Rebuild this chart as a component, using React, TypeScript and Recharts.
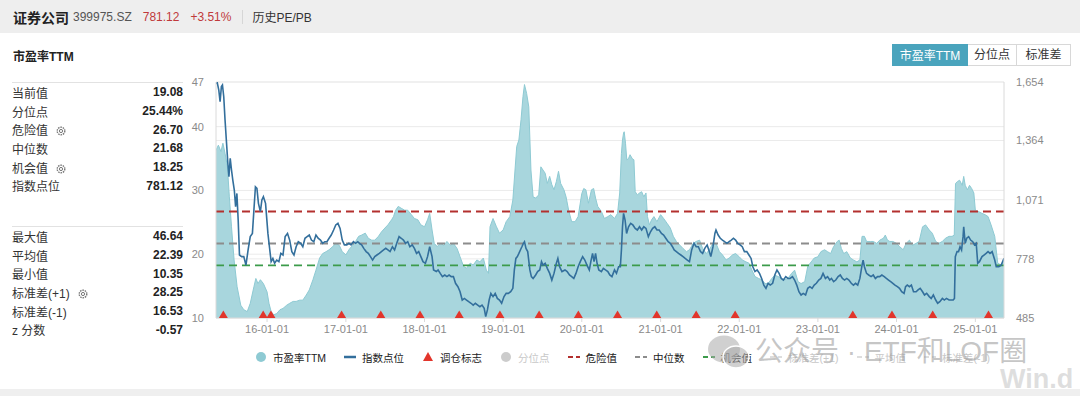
import React from "react";
import { ComposedChart, Area, Line, Scatter, XAxis, YAxis, ReferenceLine, CartesianGrid } from "recharts";

const FONT = 'Arial, "Liberation Sans", "Noto Sans CJK SC", sans-serif';

// 市盈率TTM (left axis)
const peDates = [
  "2015-05-09", "2015-05-20", "2015-06-01", "2015-06-10", "2015-06-20", "2015-07-01", "2015-07-10", "2015-07-20",
  "2015-08-01", "2015-08-15", "2015-09-01", "2015-09-15", "2015-10-01", "2015-10-15", "2015-11-01", "2015-11-10",
  "2015-11-20", "2015-12-01", "2015-12-15",
  "2016-01-01", "2016-01-10", "2016-01-20", "2016-02-01", "2016-02-15", "2016-03-01", "2016-03-15", "2016-04-01",
  "2016-04-15", "2016-05-01", "2016-05-15", "2016-06-01", "2016-06-15", "2016-07-01", "2016-07-15", "2016-08-01",
  "2016-08-15", "2016-09-01", "2016-09-15", "2016-10-01", "2016-10-15", "2016-11-01", "2016-11-15", "2016-12-01",
  "2016-12-15",
  "2017-01-01", "2017-01-15", "2017-02-01", "2017-02-15", "2017-03-01", "2017-03-15", "2017-04-01", "2017-04-15",
  "2017-05-01", "2017-05-15", "2017-06-01", "2017-06-15", "2017-07-01", "2017-07-15", "2017-08-01", "2017-08-10",
  "2017-08-20", "2017-09-01", "2017-09-15", "2017-10-01", "2017-10-15", "2017-11-01", "2017-11-15", "2017-12-01",
  "2017-12-15",
  "2018-01-01", "2018-01-15", "2018-01-25", "2018-02-05", "2018-02-15", "2018-03-01", "2018-03-15", "2018-04-01",
  "2018-04-15", "2018-05-01", "2018-05-15", "2018-06-01", "2018-06-15", "2018-07-01", "2018-07-15", "2018-08-01",
  "2018-08-15", "2018-09-01", "2018-09-15", "2018-10-01", "2018-10-15", "2018-10-25", "2018-11-01", "2018-11-15",
  "2018-12-01", "2018-12-15",
  "2019-01-01", "2019-01-15", "2019-02-01", "2019-02-15", "2019-02-25", "2019-03-05", "2019-03-15", "2019-03-25",
  "2019-04-03", "2019-04-10", "2019-04-20", "2019-04-30", "2019-05-10", "2019-05-20", "2019-06-01", "2019-06-15",
  "2019-06-25", "2019-07-05", "2019-07-15", "2019-07-25", "2019-08-05", "2019-08-15", "2019-08-25", "2019-09-05",
  "2019-09-15", "2019-09-25", "2019-10-10", "2019-10-20", "2019-11-01", "2019-11-15", "2019-12-01", "2019-12-15",
  "2020-01-01", "2020-01-10", "2020-01-20", "2020-02-01", "2020-02-15", "2020-02-25", "2020-03-05", "2020-03-15",
  "2020-04-01", "2020-04-15", "2020-05-01", "2020-05-15", "2020-06-01", "2020-06-15", "2020-06-25", "2020-07-03",
  "2020-07-08", "2020-07-13", "2020-07-16", "2020-07-22", "2020-07-28", "2020-08-05", "2020-08-12", "2020-08-22",
  "2020-08-30", "2020-09-05", "2020-09-15", "2020-09-25", "2020-10-05", "2020-10-15", "2020-10-25", "2020-11-01",
  "2020-11-10", "2020-11-20", "2020-12-01", "2020-12-15",
  "2021-01-01", "2021-01-15", "2021-02-01", "2021-02-15", "2021-03-01", "2021-03-15", "2021-04-01", "2021-04-15",
  "2021-05-01", "2021-05-15", "2021-06-01", "2021-06-15", "2021-07-01", "2021-07-15", "2021-08-01", "2021-08-15",
  "2021-09-01", "2021-09-15", "2021-10-01", "2021-10-15", "2021-11-01", "2021-11-15", "2021-12-01", "2021-12-15",
  "2022-01-01", "2022-01-15", "2022-02-01", "2022-02-15", "2022-03-01", "2022-03-15", "2022-04-01", "2022-04-15",
  "2022-05-01", "2022-05-15", "2022-06-01", "2022-06-15", "2022-07-01", "2022-07-15", "2022-08-01", "2022-08-15",
  "2022-09-01", "2022-09-15", "2022-10-01", "2022-10-15", "2022-11-01", "2022-11-15", "2022-12-01", "2022-12-15",
  "2023-01-01", "2023-01-15", "2023-02-01", "2023-02-15", "2023-03-01", "2023-03-15", "2023-04-01", "2023-04-10",
  "2023-04-20", "2023-05-01", "2023-05-15", "2023-06-01", "2023-06-15", "2023-07-01", "2023-07-15", "2023-07-25",
  "2023-08-05", "2023-08-15", "2023-09-01", "2023-09-15", "2023-10-01", "2023-10-15", "2023-11-01", "2023-11-10",
  "2023-11-20", "2023-12-01", "2023-12-15",
  "2024-01-01", "2024-01-15", "2024-02-01", "2024-02-15", "2024-03-01", "2024-03-15", "2024-04-01", "2024-04-15",
  "2024-05-01", "2024-05-15", "2024-06-01", "2024-06-15", "2024-07-01", "2024-07-15", "2024-08-01", "2024-08-15",
  "2024-09-01", "2024-09-15", "2024-09-25", "2024-10-01", "2024-10-10", "2024-10-20", "2024-11-01", "2024-11-08",
  "2024-11-15", "2024-11-25", "2024-12-05", "2024-12-15", "2024-12-25",
  "2025-01-01", "2025-01-15", "2025-02-01", "2025-02-15", "2025-03-01", "2025-03-15", "2025-04-01", "2025-04-08",
  "2025-04-15", "2025-05-01", "2025-05-14",
];
const peValues = [
  36.3, 37.1, 36.1, 37.4, 35.8, 33.7, 29.0, 24.3,
  19.1, 14.9, 12.0, 11.3, 11.0, 12.3, 14.9, 16.2,
  15.4, 16.0, 15.4,
  14.1, 12.3, 11.0, 10.5, 10.7, 11.3, 11.5, 12.0,
  12.3, 12.6, 12.6, 12.8, 12.8, 13.6, 14.4, 16.0,
  17.5, 19.4, 20.1, 20.4, 20.7, 21.2, 21.7, 21.4,
  20.4,
  19.9, 20.7, 21.4, 22.0, 22.8, 23.0, 23.3, 22.5,
  22.2, 22.2, 22.8, 23.5, 24.1, 24.6, 25.4, 25.9,
  26.9, 27.5, 27.2, 26.9, 26.9, 26.2, 25.6, 25.4,
  24.6,
  24.3, 25.4, 26.4, 23.8, 21.7, 21.2, 21.7, 21.4,
  22.0, 21.4, 21.7, 20.9, 19.6, 18.1, 17.8, 18.6,
  18.3, 19.1, 18.8, 19.4, 17.5, 17.0, 24.3, 25.6,
  24.3, 23.3,
  23.8, 25.1, 25.9, 28.5, 33.2, 36.9, 37.9, 41.1,
  44.7, 46.6, 45.2, 43.1, 33.2, 29.0, 28.8, 29.3,
  33.7, 33.2, 32.7, 31.1, 32.2, 30.9, 30.1, 31.4,
  33.0, 31.1, 30.1, 29.0, 26.9, 25.1, 25.1, 25.9,
  29.5, 30.3, 30.1, 28.0, 30.1, 30.3, 28.8, 27.5,
  26.7, 25.6, 25.9, 26.2, 25.6, 26.4, 29.6, 35.8,
  37.9, 39.0, 39.2, 37.4, 34.8, 35.0, 35.6, 35.0,
  34.8, 29.8, 29.3, 29.6, 29.8, 29.0, 29.6, 25.9,
  24.6, 25.4, 25.9, 25.1,
  26.2, 25.6, 24.8, 24.1, 22.8, 22.0, 21.4, 20.9,
  20.4, 20.7, 21.7, 22.0, 22.2, 20.9, 20.1, 20.7,
  21.7, 21.7, 20.4, 19.9, 19.1, 19.4, 19.9, 20.1,
  19.6, 19.1, 18.8, 18.6, 17.5, 16.5, 16.2, 16.0,
  15.4, 15.4, 16.2, 16.7, 16.5, 16.2, 16.0, 16.2,
  17.0, 17.5, 15.7, 15.4, 15.7, 18.1, 18.8, 19.4,
  19.6, 20.4, 20.7, 20.4, 20.1, 21.2, 22.0, 22.2,
  20.9, 20.1, 20.4, 19.4, 19.1, 18.8, 19.1, 22.8,
  22.8, 22.0, 22.0, 22.0, 21.7, 22.2, 22.5, 23.0,
  22.2, 22.0, 22.0,
  21.7, 21.2, 20.7, 21.7, 22.2, 21.4, 21.7, 22.0,
  24.3, 24.6, 23.8, 23.3, 22.0, 21.7, 22.0, 22.5,
  22.8, 22.8, 23.0, 31.1, 31.4, 31.6, 30.8, 32.2,
  30.8, 30.1, 30.8, 30.3, 29.6,
  26.9, 26.7, 26.4, 26.2, 25.9, 24.6, 22.8, 20.7,
  18.6, 18.3, 19.08,
];

// 指数点位 (right axis)
const idxDates = [
  "2015-05-09", "2015-05-15", "2015-05-22", "2015-05-28", "2015-06-03", "2015-06-08", "2015-06-14", "2015-06-20",
  "2015-06-26", "2015-07-03", "2015-07-08", "2015-07-14", "2015-07-20", "2015-07-26", "2015-08-02", "2015-08-08",
  "2015-08-14", "2015-08-20", "2015-08-26", "2015-09-05", "2015-09-15", "2015-09-25", "2015-10-05", "2015-10-15",
  "2015-10-25", "2015-11-01", "2015-11-08", "2015-11-15", "2015-11-22", "2015-12-01", "2015-12-08", "2015-12-15",
  "2015-12-25",
  "2016-01-05", "2016-01-12", "2016-01-20", "2016-01-28", "2016-02-05", "2016-02-15", "2016-02-25", "2016-03-05",
  "2016-03-15", "2016-03-25", "2016-04-05", "2016-04-15", "2016-04-25", "2016-05-05", "2016-05-15", "2016-05-25",
  "2016-06-05", "2016-06-15", "2016-06-25", "2016-07-05", "2016-07-15", "2016-07-25", "2016-08-05", "2016-08-15",
  "2016-08-25", "2016-09-05", "2016-09-15", "2016-09-25", "2016-10-05", "2016-10-15", "2016-10-25", "2016-11-05",
  "2016-11-15", "2016-11-25", "2016-12-05", "2016-12-15", "2016-12-25",
  "2017-01-05", "2017-01-15", "2017-01-25", "2017-02-05", "2017-02-15", "2017-02-25", "2017-03-05", "2017-03-15",
  "2017-03-25", "2017-04-05", "2017-04-15", "2017-04-25", "2017-05-05", "2017-05-15", "2017-05-25", "2017-06-05",
  "2017-06-15", "2017-06-25", "2017-07-05", "2017-07-15", "2017-07-25", "2017-08-05", "2017-08-15", "2017-08-25",
  "2017-09-05", "2017-09-15", "2017-09-25", "2017-10-05", "2017-10-15", "2017-10-25", "2017-11-05", "2017-11-15",
  "2017-11-25", "2017-12-05", "2017-12-15", "2017-12-25",
  "2018-01-05", "2018-01-15", "2018-01-25", "2018-02-05", "2018-02-12", "2018-02-25", "2018-03-05", "2018-03-15",
  "2018-03-25", "2018-04-05", "2018-04-15", "2018-04-25", "2018-05-05", "2018-05-15", "2018-05-25", "2018-06-05",
  "2018-06-15", "2018-06-25", "2018-07-05", "2018-07-15", "2018-07-25", "2018-08-05", "2018-08-15", "2018-08-25",
  "2018-09-05", "2018-09-15", "2018-09-25", "2018-10-05", "2018-10-12", "2018-10-20", "2018-10-28", "2018-11-05",
  "2018-11-15", "2018-11-25", "2018-12-05", "2018-12-15", "2018-12-25",
  "2019-01-05", "2019-01-15", "2019-01-25", "2019-02-05", "2019-02-15", "2019-02-22", "2019-03-01", "2019-03-08",
  "2019-03-15", "2019-03-22", "2019-03-29", "2019-04-05", "2019-04-10", "2019-04-17", "2019-04-25", "2019-05-05",
  "2019-05-12", "2019-05-20", "2019-06-01", "2019-06-10", "2019-06-20", "2019-06-28", "2019-07-05", "2019-07-15",
  "2019-07-25", "2019-08-05", "2019-08-15", "2019-08-25", "2019-09-05", "2019-09-12", "2019-09-20", "2019-10-01",
  "2019-10-15", "2019-10-25", "2019-11-05", "2019-11-15", "2019-11-25", "2019-12-05", "2019-12-15", "2019-12-25",
  "2020-01-05", "2020-01-15", "2020-01-25", "2020-02-05", "2020-02-12", "2020-02-20", "2020-02-27", "2020-03-05",
  "2020-03-12", "2020-03-20", "2020-04-01", "2020-04-10", "2020-04-20", "2020-05-01", "2020-05-10", "2020-05-20",
  "2020-06-01", "2020-06-10", "2020-06-20", "2020-06-28", "2020-07-03", "2020-07-08", "2020-07-13", "2020-07-20",
  "2020-07-27", "2020-08-05", "2020-08-15", "2020-08-25", "2020-09-05", "2020-09-15", "2020-09-25", "2020-10-05",
  "2020-10-15", "2020-10-25", "2020-11-05", "2020-11-15", "2020-11-25", "2020-12-05", "2020-12-15", "2020-12-25",
  "2021-01-05", "2021-01-15", "2021-01-25", "2021-02-05", "2021-02-15", "2021-02-25", "2021-03-05", "2021-03-15",
  "2021-03-25", "2021-04-05", "2021-04-15", "2021-04-25", "2021-05-05", "2021-05-15", "2021-05-25", "2021-06-05",
  "2021-06-15", "2021-06-25", "2021-07-05", "2021-07-15", "2021-07-25", "2021-08-05", "2021-08-15", "2021-08-22",
  "2021-09-01", "2021-09-10", "2021-09-15", "2021-09-25", "2021-10-05", "2021-10-15", "2021-10-25", "2021-11-05",
  "2021-11-15", "2021-11-25", "2021-12-05", "2021-12-15", "2021-12-25",
  "2022-01-05", "2022-01-15", "2022-01-25", "2022-02-05", "2022-02-15", "2022-02-25", "2022-03-05", "2022-03-15",
  "2022-03-25", "2022-04-05", "2022-04-15", "2022-04-25", "2022-05-05", "2022-05-15", "2022-05-25", "2022-06-05",
  "2022-06-15", "2022-06-25", "2022-07-05", "2022-07-15", "2022-07-25", "2022-08-05", "2022-08-15", "2022-08-25",
  "2022-09-05", "2022-09-15", "2022-09-25", "2022-10-05", "2022-10-15", "2022-10-25", "2022-11-05", "2022-11-15",
  "2022-11-25", "2022-12-05", "2022-12-15", "2022-12-25",
  "2023-01-05", "2023-01-15", "2023-01-25", "2023-02-05", "2023-02-15", "2023-02-25", "2023-03-05", "2023-03-15",
  "2023-03-25", "2023-04-05", "2023-04-15", "2023-04-25", "2023-05-05", "2023-05-15", "2023-05-25", "2023-06-05",
  "2023-06-15", "2023-06-25", "2023-07-05", "2023-07-15", "2023-07-25", "2023-07-30", "2023-08-05", "2023-08-15",
  "2023-08-25", "2023-09-05", "2023-09-15", "2023-09-25", "2023-10-05", "2023-10-15", "2023-10-25", "2023-11-05",
  "2023-11-15", "2023-11-25", "2023-12-05", "2023-12-15", "2023-12-25",
  "2024-01-05", "2024-01-15", "2024-01-25", "2024-02-05", "2024-02-12", "2024-02-20", "2024-03-01", "2024-03-10",
  "2024-03-20", "2024-04-01", "2024-04-10", "2024-04-20", "2024-05-01", "2024-05-10", "2024-05-20", "2024-06-01",
  "2024-06-10", "2024-06-20", "2024-07-01", "2024-07-10", "2024-07-20", "2024-08-01", "2024-08-10", "2024-08-20",
  "2024-09-01", "2024-09-10", "2024-09-20", "2024-09-26", "2024-09-30", "2024-10-08", "2024-10-15", "2024-10-22",
  "2024-10-29", "2024-11-05", "2024-11-08", "2024-11-15", "2024-11-22", "2024-12-01", "2024-12-10", "2024-12-20",
  "2024-12-28",
  "2025-01-05", "2025-01-12", "2025-01-20", "2025-02-01", "2025-02-10", "2025-02-20", "2025-03-01", "2025-03-10",
  "2025-03-20", "2025-04-01", "2025-04-08", "2025-04-20", "2025-05-01", "2025-05-14",
];
const idxValues = [
  1647, 1650, 1614, 1556, 1631, 1639, 1581, 1466,
  1367, 1251, 1185, 1276, 1218, 1168, 1119, 1036,
  1102, 970, 797, 789, 789, 747, 822, 888,
  904, 1020, 1135, 1127, 1053, 1012, 1070, 1086,
  1053,
  904, 838, 764, 780, 756, 772, 764, 805,
  797, 888, 904, 871, 814, 797, 838, 863,
  855, 838, 880, 888, 896, 871, 863, 896,
  880, 871, 855, 863, 863, 880, 896, 921,
  946, 954, 929, 871, 847,
  847, 855, 847, 863, 855, 863, 855, 847,
  830, 814, 805, 789, 772, 789, 797, 805,
  814, 822, 830, 822, 814, 838, 822, 855,
  888, 880, 871, 855, 863, 838, 847, 830,
  805, 814, 789, 764,
  756, 789, 838, 789, 723, 715, 723, 706,
  690, 698, 690, 698, 690, 690, 657, 640,
  615, 574, 582, 574, 566, 558, 549, 558,
  549, 541, 549, 533, 492, 525, 574, 607,
  591, 607, 582, 574, 558,
  591, 607, 607, 615, 632, 723, 780, 789,
  805, 822, 838, 855, 863, 830, 814, 723,
  690, 681, 698, 715, 723, 764, 747, 756,
  731, 706, 673, 706, 756, 780, 739, 715,
  723, 715, 698, 690, 681, 706, 739, 764,
  789, 772, 747, 723, 764, 805, 764, 805,
  756, 723, 715, 731, 723, 715, 698, 690,
  723, 706, 739, 739, 822, 937, 1003, 970,
  904, 937, 954, 946, 929, 921, 937, 921,
  937, 929, 888, 912, 929, 937, 921, 921,
  904, 896, 880, 863, 855, 838, 822, 814,
  805, 797, 789, 780, 772, 764, 822, 855,
  838, 838, 814, 805, 830, 847, 814, 789,
  838, 904, 921, 896, 880, 871, 863, 855,
  863, 871, 880, 871, 855,
  847, 838, 814, 814, 797, 780, 739, 715,
  723, 706, 681, 648, 632, 657, 648, 657,
  698, 723, 706, 681, 673, 690, 681, 681,
  690, 673, 648, 615, 599, 607, 599, 632,
  640, 632, 648, 657,
  673, 681, 706, 681, 690, 673, 681, 665,
  673, 690, 698, 681, 673, 681, 673, 657,
  648, 657, 648, 681, 747, 772, 739, 706,
  698, 690, 698, 681, 690, 690, 698, 690,
  681, 673, 665, 657, 648,
  640, 632, 615, 607, 640, 648, 640, 648,
  615, 615, 624, 632, 615, 599, 607, 591,
  582, 599, 574, 558, 566, 582, 574, 582,
  574, 574, 574, 582, 789, 814, 814, 838,
  822, 888, 937, 855, 880, 888, 871, 863,
  847,
  855, 756, 764, 789, 797, 805, 814, 805,
  814, 772, 739, 739, 747, 781.12,
];

// 调仓标志
const flagDates = [
  "2015-06-12", "2015-12-14", "2016-01-19", "2016-12-12", "2017-06-12", "2017-12-11", "2018-06-11", "2018-12-17",
  "2019-06-17", "2019-12-16", "2020-06-15", "2020-12-14", "2021-06-15", "2021-12-13", "2023-06-12", "2023-12-11",
  "2024-06-17", "2025-03-03",
];

const yearTicks = ["2016-01-01", "2017-01-01", "2018-01-01", "2019-01-01", "2020-01-01", "2021-01-01", "2022-01-01", "2023-01-01", "2024-01-01", "2025-01-01"];
const peTicks = [10, 20, 30, 40, 47];
const idxTicks = [485, 778, 1071, 1364, 1654];

const dangerValue = 26.7;
const medianValue = 21.68;
const chanceValue = 18.25;

const statLabelsTop = ["当前值", "分位点", "危险值", "中位数", "机会值", "指数点位"];
const statValuesTop = ["19.08", "25.44%", "26.70", "21.68", "18.25", "781.12"];
const statGearTop = [false, false, true, false, true, false];
const statLabelsBottom = ["最大值", "平均值", "最小值", "标准差(+1)", "标准差(-1)", "z 分数"];
const statValuesBottom = ["46.64", "22.39", "10.35", "28.25", "16.53", "-0.57"];
const statGearBottom = [false, false, false, true, false, false];

const toTs = (d: string) => Date.parse(d + "T00:00:00Z");

const rowMap = new Map<number, { t: number; pe?: number; idx?: number }>();
peDates.forEach((d, i) => {
  const t = toTs(d);
  const r = rowMap.get(t) || { t };
  r.pe = peValues[i];
  rowMap.set(t, r);
});
idxDates.forEach((d, i) => {
  const t = toTs(d);
  const r = rowMap.get(t) || { t };
  r.idx = idxValues[i];
  rowMap.set(t, r);
});
const chartData = Array.from(rowMap.values()).sort((a, b) => a.t - b.t);
const flagData = flagDates.map((d) => ({ t: toTs(d), y: 10 }));

const xDomain = [toTs("2015-05-09"), toTs("2025-05-14")];

const C = {
  area: "#a8d6dd",
  areaStroke: "#8ecad3",
  index: "#336f9c",
  flag: "#e2352b",
  danger: "#b3302e",
  median: "#8c8c8c",
  chance: "#3c9b4b",
  grid: "#ebebeb",
  axis: "#dadada",
  tick: "#8a8a8a",
  teal: "#4aa4bd",
};

function Gear() {
  return (
    <svg width="10" height="10" style={{ marginLeft: 8, verticalAlign: "-1px" }}>
      <circle cx="5" cy="5" r="3.8" fill="none" stroke="#777" strokeWidth="1.4" strokeDasharray="1.5 0.9" />
      <circle cx="5" cy="5" r="1.6" fill="none" stroke="#777" strokeWidth="1" />
    </svg>
  );
}

function StatRows({ top, labels, values, gears }: { top: number; labels: string[]; values: string[]; gears: boolean[] }) {
  return (
    <div style={{ position: "absolute", left: 12, top, width: 171, borderTop: "1px solid #e2e2e2" }}>
      {labels.map((l, i) => (
        <div key={l} style={{ display: "flex", justifyContent: "space-between", alignItems: "center", height: 18.7, fontSize: 12 }}>
          <span style={{ color: "#333" }}>
            {l}
            {gears[i] ? <Gear /> : null}
          </span>
          <span style={{ color: "#222", fontWeight: "bold" }}>{values[i]}</span>
        </div>
      ))}
    </div>
  );
}

const legendItems = [
  { label: "市盈率TTM", kind: "circle", color: C.areaStroke, faded: false },
  { label: "指数点位", kind: "line", color: C.index, faded: false },
  { label: "调仓标志", kind: "tri", color: C.flag, faded: false },
  { label: "分位点", kind: "circle", color: "#cccccc", faded: true },
  { label: "危险值", kind: "dash", color: C.danger, faded: false },
  { label: "中位数", kind: "dash", color: C.median, faded: false },
  { label: "机会值", kind: "dash", color: C.chance, faded: false },
  { label: "标准差(+1)", kind: "dash", color: "#dddddd", faded: true },
  { label: "平均值", kind: "dash", color: "#dddddd", faded: true },
  { label: "标准差(-1)", kind: "dash", color: "#dddddd", faded: true },
];

function LegendIcon({ kind, color }: { kind: string; color: string }) {
  return (
    <svg width="12" height="12" style={{ marginRight: 6 }}>
      {kind === "circle" && <circle cx="6" cy="6" r="5" fill={color} />}
      {kind === "line" && <line x1="0" y1="6" x2="12" y2="6" stroke={color} strokeWidth="2.5" />}
      {kind === "tri" && <path d="M6,1 L11,10 L1,10 Z" fill={color} />}
      {kind === "dash" && <line x1="0" y1="6" x2="12" y2="6" stroke={color} strokeWidth="2" strokeDasharray="5 3" />}
    </svg>
  );
}

function Triangle(props: any) {
  const { cx, cy } = props;
  return <path d={`M${cx},${cy - 7.5} L${cx + 4.5},${cy} L${cx - 4.5},${cy} Z`} fill={C.flag} />;
}

const fmtYear = (t: number) => {
  const d = new Date(t);
  return `${String(d.getUTCFullYear()).slice(2)}-01-01`;
};

export default function App() {
  return (
    <div style={{ position: "relative", width: 1080, height: 396, overflow: "hidden", background: "#fff", fontFamily: FONT }}>
      <style>{`body{margin:0}`}</style>

      {/* header bar */}
      <div style={{ position: "absolute", left: 0, top: 0, width: 1080, height: 33, background: "#eeeeee", display: "flex", alignItems: "center", fontSize: 12, whiteSpace: "nowrap" }}>
        <span style={{ marginLeft: 13, fontSize: 14, fontWeight: "bold", color: "#222" }}>证券公司</span>
        <span style={{ marginLeft: 4, color: "#555" }}>399975.SZ</span>
        <span style={{ marginLeft: 11, color: "#c0393a" }}>781.12</span>
        <span style={{ marginLeft: 11, color: "#c0393a" }}>+3.51%</span>
        <span style={{ marginLeft: 11, width: 1, height: 14, background: "#d6d6d6" }} />
        <span style={{ marginLeft: 9, color: "#333" }}>历史PE/PB</span>
      </div>

      <div style={{ position: "absolute", left: 13, top: 47, fontSize: 12, fontWeight: "bold", color: "#222" }}>市盈率TTM</div>

      <StatRows top={82} labels={statLabelsTop} values={statValuesTop} gears={statGearTop} />
      <StatRows top={226} labels={statLabelsBottom} values={statValuesBottom} gears={statGearBottom} />

      {/* switch buttons */}
      <div style={{ position: "absolute", left: 892, top: 44, height: 22, display: "flex", fontSize: 12 }}>
        <div style={{ width: 76, lineHeight: "22px", textAlign: "center", background: C.teal, color: "#fff", border: `1px solid ${C.teal}`, boxSizing: "border-box" }}>市盈率TTM</div>
        <div style={{ width: 49, lineHeight: "20px", textAlign: "center", color: "#333", border: "1px solid #d8d8d8", borderLeft: "none", boxSizing: "border-box" }}>分位点</div>
        <div style={{ width: 54, lineHeight: "20px", textAlign: "center", color: "#333", border: "1px solid #d8d8d8", borderLeft: "none", boxSizing: "border-box" }}>标准差</div>
      </div>

      <ComposedChart
        width={1080}
        height={396}
        data={chartData}
        margin={{ top: 82, right: 16, bottom: 48, left: 186 }}
        style={{ position: "absolute", left: 0, top: 0 }}
      >
        <CartesianGrid yAxisId="pe" vertical={false} stroke={C.grid} />
        <CartesianGrid yAxisId="idx" vertical={false} stroke={C.grid} />
        <XAxis
          dataKey="t"
          type="number"
          domain={xDomain}
          ticks={yearTicks.map(toTs)}
          tickFormatter={fmtYear}
          interval={0}
          height={30}
          stroke={C.axis}
          tickSize={4}
          tickMargin={3}
          tick={{ fill: C.tick, fontSize: 11, fontFamily: FONT }}
          allowDataOverflow
        />
        <YAxis
          yAxisId="pe"
          orientation="left"
          width={30}
          domain={[10, 47]}
          ticks={peTicks}
          interval={0}
          tickLine={false}
          tickMargin={6}
          stroke={C.axis}
          tick={{ fill: C.tick, fontSize: 11, fontFamily: FONT }}
          allowDataOverflow
        />
        <YAxis
          yAxisId="idx"
          orientation="right"
          width={60}
          domain={[485, 1654]}
          ticks={idxTicks}
          interval={0}
          tickLine={false}
          tickMargin={6}
          stroke={C.axis}
          tickFormatter={(v: number) => v.toLocaleString("en-US")}
          tick={{ fill: C.tick, fontSize: 11, fontFamily: FONT, textAnchor: "start" }}
          allowDataOverflow
        />
        <Area
          yAxisId="pe"
          dataKey="pe"
          type="linear"
          fill={C.area}
          fillOpacity={1}
          stroke={C.areaStroke}
          strokeWidth={1}
          connectNulls
          dot={false}
          activeDot={false}
          isAnimationActive={false}
        />
        <ReferenceLine yAxisId="pe" y={dangerValue} stroke={C.danger} strokeWidth={1.8} strokeDasharray="8 5" />
        <ReferenceLine yAxisId="pe" y={medianValue} stroke={C.median} strokeWidth={1.8} strokeDasharray="8 5" />
        <ReferenceLine yAxisId="pe" y={chanceValue} stroke={C.chance} strokeWidth={1.8} strokeDasharray="8 5" />
        <Line
          yAxisId="idx"
          dataKey="idx"
          type="linear"
          stroke={C.index}
          strokeWidth={1.6}
          connectNulls
          dot={false}
          activeDot={false}
          isAnimationActive={false}
        />
        <Scatter yAxisId="pe" data={flagData} dataKey="y" shape={<Triangle />} isAnimationActive={false} />
      </ComposedChart>

      {/* legend */}
      <div style={{ position: "absolute", left: 255, top: 350, height: 14, display: "flex", alignItems: "center", fontSize: 10.5, whiteSpace: "nowrap" }}>
        {legendItems.map((it) => (
          <div key={it.label} style={{ display: "flex", alignItems: "center", marginRight: 18, color: it.faded ? "#c8c8c8" : "#222" }}>
            <LegendIcon kind={it.kind} color={it.color} />
            <span>{it.label}</span>
          </div>
        ))}
      </div>

      {/* watermark */}
      <svg width="46" height="40" style={{ position: "absolute", left: 706, top: 332 }}>
        <ellipse cx="18" cy="17" rx="16" ry="13.5" fill="rgba(170,170,170,0.55)" />
        <ellipse cx="30" cy="25" rx="13" ry="11" fill="rgba(170,170,170,0.55)" stroke="#fff" strokeWidth="1.5" />
      </svg>
      <div style={{ position: "absolute", left: 755, top: 334, fontSize: 28, color: "rgba(160,160,160,0.6)", whiteSpace: "nowrap", lineHeight: "36px" }}>
        公众号 · ETF和LOF圈
      </div>
      <div style={{ position: "absolute", left: 1000, top: 364, fontSize: 27, fontWeight: "bold", color: "rgba(200,200,200,0.6)", whiteSpace: "nowrap", lineHeight: "30px" }}>
        Win.d
      </div>
      <div style={{ position: "absolute", left: 0, top: 389, width: 1080, height: 7, background: "#efefef" }} />
    </div>
  );
}
